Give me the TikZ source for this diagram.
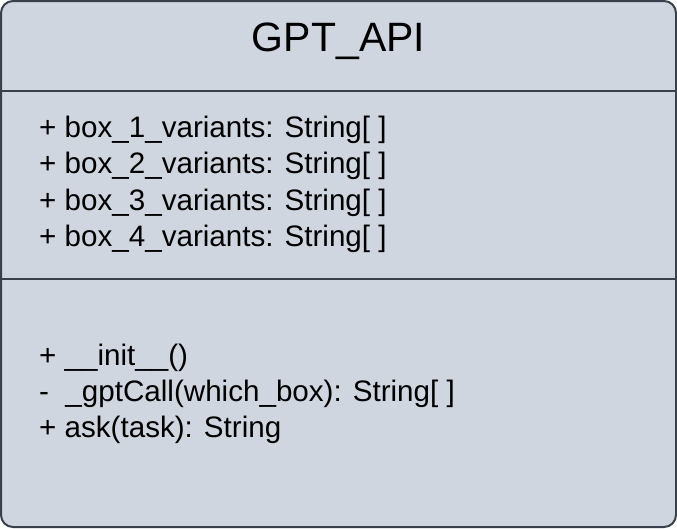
\documentclass[tikz,border=0pt]{standalone}
\usepackage{fontspec}
\setmainfont{Liberation Sans}
\definecolor{umlfill}{HTML}{CFD6DF}
\definecolor{umlline}{HTML}{3A4049}
\tikzset{
  member/.style={anchor=base west,inner sep=0pt,font=\fontsize{29.6}{36}\selectfont},
  sepline/.style={draw=umlline,line width=1.6pt}
}

\begin{document}
\begin{tikzpicture}[x=1pt,y=-1pt]
  \useasboundingbox (0,0) rectangle (677,528);
  \node[draw=umlline,fill=umlfill,line width=2pt,rounded corners=12pt,
        minimum width=675pt,minimum height=526pt,inner sep=0pt] (gptapi) at (338.5,264) {};
  \node[anchor=base,inner sep=0pt,font=\fontsize{41}{48}\selectfont] (title) at (338.5,51) {GPT\_API};
    \draw[sepline] (gptapi.west |- 0,91) -- (gptapi.east |- 0,91);
    \draw[sepline] (gptapi.west |- 0,279) -- (gptapi.east |- 0,279);
    % attributes
    \node[member] (box1) at (39,137) {+ box\_1\_variants: String[ ]};
    \node[member] (box2) at (39,173.5) {+ box\_2\_variants: String[ ]};
    \node[member] (box3) at (39,210) {+ box\_3\_variants: String[ ]};
    \node[member] (box4) at (39,246.5) {+ box\_4\_variants: String[ ]};
    % methods
    \node[member] (init) at (39,365) {+ \_\_init\_\_()};
    \node[member] (gptcall) at (39,401) {-\ \ \_gptCall(which\_box): String[ ]};
    \node[member] (ask) at (39,437) {+ ask(task): String};
  \end{tikzpicture}
\end{document}
